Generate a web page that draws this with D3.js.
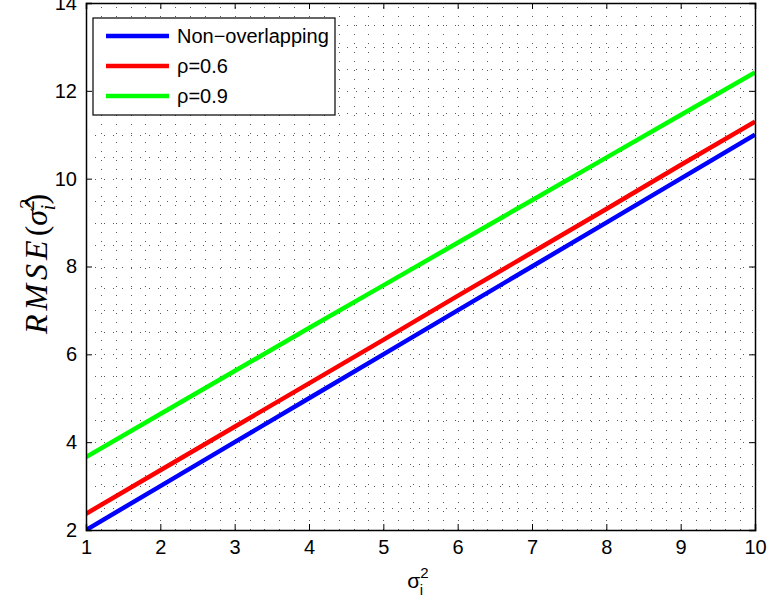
<!DOCTYPE html>
<html><head><meta charset="utf-8">
<script src="https://cdn.jsdelivr.net/npm/d3@7/dist/d3.min.js"></script>
<style>body{margin:0;background:#fff}svg{display:block}</style>
</head><body>
<script>
const xValues = [1,2,3,4,5,6,7,8,9,10];
const nonOverlapping = [2,3,4,5,6,7,8,9,10,11];
const rho06 = [2.37,3.36,4.35,5.34,6.33,7.33,8.32,9.31,10.31,11.30];
const rho09 = [3.66,4.64,5.62,6.60,7.57,8.54,9.51,10.48,11.45,12.42];
const seriesNames = ["Non\u2212overlapping","\u03c1=0.6","\u03c1=0.9"];
const seriesColors = ["#0000ff","#ff0000","#00ff00"];
const xTicks = [1,2,3,4,5,6,7,8,9,10];
const yTicks = [2,4,6,8,10,12,14];

const W=769,H=604;
const m={l:86,r:14,t:3,b:74};
const svg=d3.select("body").append("svg").attr("width",W).attr("height",H);
const x=d3.scaleLinear().domain([1,10]).range([m.l,W-m.r]);
const y=d3.scaleLinear().domain([2,14]).range([H-m.b,m.t]);

const g=svg.append("g").attr("shape-rendering","crispEdges");
// grid (major + minor, dotted)
const xMinor=d3.range(1,10.001,0.2), yMinor=d3.range(2,14.001,0.5);
g.selectAll(".vx").data(xMinor).join("line")
 .attr("x1",d=>Math.round(x(d))+0.5).attr("x2",d=>Math.round(x(d))+0.5).attr("y1",y(2)).attr("y2",y(14))
 .attr("stroke","#000").attr("stroke-width",1).attr("stroke-dasharray","1,8").attr("opacity",0.65);
g.selectAll(".hy").data(yMinor).join("line")
 .attr("y1",d=>Math.round(y(d))+0.5).attr("y2",d=>Math.round(y(d))+0.5).attr("x1",x(1)).attr("x2",x(10))
 .attr("stroke","#000").attr("stroke-width",1).attr("stroke-dasharray","1,8").attr("opacity",0.65);

// lines
const all=[nonOverlapping,rho06,rho09];
const line=d3.line().x((d,i)=>x(xValues[i])).y(d=>y(d));
const clip=svg.append("clipPath").attr("id","c").append("rect")
 .attr("x",x(1)).attr("y",y(14)).attr("width",x(10)-x(1)).attr("height",y(2)-y(14));
all.forEach((s,i)=>{
 svg.append("path").datum(s).attr("d",line).attr("fill","none")
  .attr("stroke",seriesColors[i]).attr("stroke-width",4.5).attr("clip-path","url(#c)");
});

// axes
const font="'Liberation Sans',Arial,sans-serif";
const ax=svg.append("g").attr("transform",`translate(0,${y(2)})`)
 .call(d3.axisBottom(x).tickValues(xTicks).tickSize(-6).tickPadding(10).tickFormat(d3.format("d")));
const axT=svg.append("g").attr("transform",`translate(0,${y(14)})`)
 .call(d3.axisTop(x).tickValues(xTicks).tickSize(-6).tickFormat(""));
const ay=svg.append("g").attr("transform",`translate(${x(1)},0)`)
 .call(d3.axisLeft(y).tickValues(yTicks).tickSize(-6).tickPadding(9).tickFormat(d3.format("d")));
const ayR=svg.append("g").attr("transform",`translate(${x(10)},0)`)
 .call(d3.axisRight(y).tickValues(yTicks).tickSize(-6).tickFormat(""));
[ax,axT,ay,ayR].forEach(a=>{
 a.select(".domain").attr("stroke","#000").attr("stroke-width",1.5);
 a.selectAll("line").attr("stroke","#000").attr("stroke-width",1);
 a.selectAll("text").attr("font-family",font).attr("font-size",20).attr("fill","#000");
});
ax.selectAll("text").attr("dy","0.71em");

// legend
const lg=svg.append("g");
lg.append("rect").attr("x",93).attr("y",18).attr("width",242).attr("height",97)
 .attr("fill","#fff").attr("stroke","#000").attr("stroke-width",1.2);
seriesNames.forEach((n,i)=>{
 const yy=36+i*30;
 lg.append("line").attr("x1",106).attr("x2",169).attr("y1",yy).attr("y2",yy)
  .attr("stroke",seriesColors[i]).attr("stroke-width",4.5);
 lg.append("text").attr("x",177).attr("y",yy).attr("dy","0.35em")
  .attr("font-family",font).attr("font-size",20).text(n);
});

// x label
const xl=svg.append("text").attr("x",418).attr("y",588).attr("text-anchor","middle")
 .attr("font-family",font).attr("font-size",21);
xl.append("tspan").text("\u03c3");
xl.append("tspan").attr("font-size",15).attr("dy",-10).text("2");
xl.append("tspan").attr("font-size",15).attr("dx",-9).attr("dy",17).text("i");

// y label
const yl=svg.append("text").attr("transform",`translate(47,264) rotate(-90)`)
 .attr("text-anchor","middle").attr("font-family","'Liberation Serif','Times New Roman',serif")
 .attr("font-style","italic").attr("font-size",32);
yl.append("tspan").attr("letter-spacing",4).text("RMSE");
yl.append("tspan").attr("font-style","normal").text("(");
yl.append("tspan").text("\u03c3\u0302");
yl.append("tspan").attr("font-size",21).attr("dy",-13).text("2");
yl.append("tspan").attr("font-size",21).attr("dx",-11).attr("dy",21).text("i");
yl.append("tspan").attr("font-style","normal").attr("dy",-8).text(")");
</script>
</body></html>
